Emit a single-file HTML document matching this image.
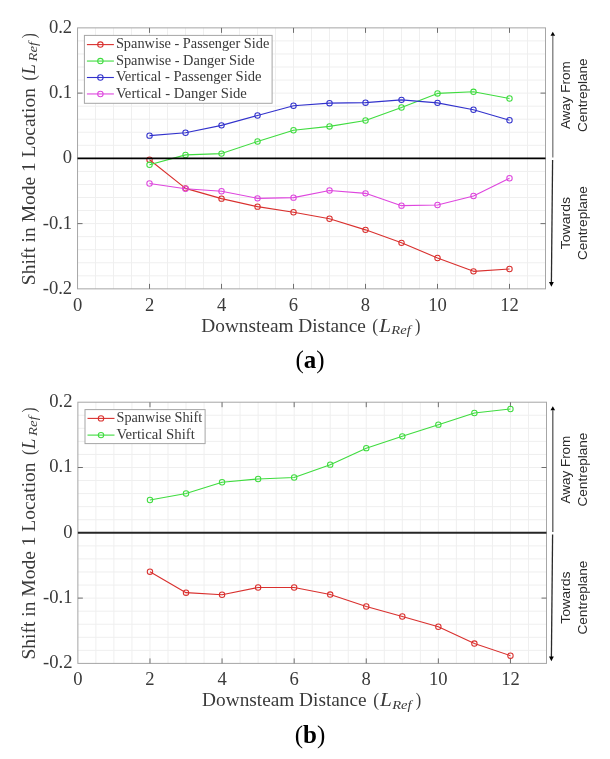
<!DOCTYPE html>
<html><head><meta charset="utf-8"><title>Mode 1 location shift</title><style>
html,body{margin:0;padding:0;background:#fff;}
body{width:610px;height:759px;overflow:hidden;position:relative;}
svg{position:absolute;left:0;top:0;will-change:transform;}
text{font-family:"Liberation Serif",serif;fill:#3a3a3a;}
.tk{font-size:18.6px;}
.lg{font-size:14.2px;}
.lb{font-size:18.5px;}
.sb{font-size:13px;}
.it{font-style:italic;}
.an{font-family:"Liberation Sans",sans-serif;font-size:12.8px;fill:#2a2a2a;}
.cap{font-size:25px;fill:#000;}
</style></head>
<body>
<svg width="610" height="759" viewBox="0 0 610 759">

<rect x="77.54" y="27.87" width="467.96" height="260.98" fill="#fff"/>
<path d="M95.54 27.87V288.85M113.54 27.87V288.85M131.54 27.87V288.85M149.53 27.87V288.85M167.53 27.87V288.85M185.53 27.87V288.85M203.53 27.87V288.85M221.53 27.87V288.85M239.53 27.87V288.85M257.52 27.87V288.85M275.52 27.87V288.85M293.52 27.87V288.85M311.52 27.87V288.85M329.52 27.87V288.85M347.52 27.87V288.85M365.52 27.87V288.85M383.51 27.87V288.85M401.51 27.87V288.85M419.51 27.87V288.85M437.51 27.87V288.85M455.51 27.87V288.85M473.51 27.87V288.85M491.50 27.87V288.85M509.50 27.87V288.85M527.50 27.87V288.85M77.54 275.80H545.50M77.54 262.75H545.50M77.54 249.70H545.50M77.54 236.65H545.50M77.54 223.61H545.50M77.54 210.56H545.50M77.54 197.51H545.50M77.54 184.46H545.50M77.54 171.41H545.50M77.54 145.31H545.50M77.54 132.26H545.50M77.54 119.21H545.50M77.54 106.16H545.50M77.54 93.12H545.50M77.54 80.07H545.50M77.54 67.02H545.50M77.54 53.97H545.50M77.54 40.92H545.50" stroke="#efefef" stroke-width="1" fill="none"/>
<rect x="77.54" y="27.87" width="467.96" height="260.98" fill="none" stroke="#a6a6a6" stroke-width="1"/>
<path d="M149.53 27.87v5M149.53 288.85v-5M221.53 27.87v5M221.53 288.85v-5M293.52 27.87v5M293.52 288.85v-5M365.52 27.87v5M365.52 288.85v-5M437.51 27.87v5M437.51 288.85v-5M509.50 27.87v5M509.50 288.85v-5M77.54 223.61h5M545.50 223.61h-5M77.54 93.12h5M545.50 93.12h-5" stroke="#6e6e6e" stroke-width="1" fill="none"/>
<path d="M149.53 159.75L185.53 188.35L221.53 198.65L257.52 206.65L293.52 212.25L329.52 218.75L365.52 229.85L401.51 242.85L437.51 257.95L473.51 271.35L509.50 269.05" stroke="#d9302e" stroke-width="1.1" fill="none" stroke-linejoin="round"/>
<circle cx="149.53" cy="159.75" r="2.7" stroke="#d9302e" stroke-width="1.05" fill="none"/>
<circle cx="185.53" cy="188.35" r="2.7" stroke="#d9302e" stroke-width="1.05" fill="none"/>
<circle cx="221.53" cy="198.65" r="2.7" stroke="#d9302e" stroke-width="1.05" fill="none"/>
<circle cx="257.52" cy="206.65" r="2.7" stroke="#d9302e" stroke-width="1.05" fill="none"/>
<circle cx="293.52" cy="212.25" r="2.7" stroke="#d9302e" stroke-width="1.05" fill="none"/>
<circle cx="329.52" cy="218.75" r="2.7" stroke="#d9302e" stroke-width="1.05" fill="none"/>
<circle cx="365.52" cy="229.85" r="2.7" stroke="#d9302e" stroke-width="1.05" fill="none"/>
<circle cx="401.51" cy="242.85" r="2.7" stroke="#d9302e" stroke-width="1.05" fill="none"/>
<circle cx="437.51" cy="257.95" r="2.7" stroke="#d9302e" stroke-width="1.05" fill="none"/>
<circle cx="473.51" cy="271.35" r="2.7" stroke="#d9302e" stroke-width="1.05" fill="none"/>
<circle cx="509.50" cy="269.05" r="2.7" stroke="#d9302e" stroke-width="1.05" fill="none"/>
<path d="M149.53 164.80L185.53 154.90L221.53 153.60L257.52 141.50L293.52 130.20L329.52 126.40L365.52 120.50L401.51 107.50L437.51 93.40L473.51 91.80L509.50 98.50" stroke="#3fdc3f" stroke-width="1.1" fill="none" stroke-linejoin="round"/>
<circle cx="149.53" cy="164.80" r="2.7" stroke="#3fdc3f" stroke-width="1.05" fill="none"/>
<circle cx="185.53" cy="154.90" r="2.7" stroke="#3fdc3f" stroke-width="1.05" fill="none"/>
<circle cx="221.53" cy="153.60" r="2.7" stroke="#3fdc3f" stroke-width="1.05" fill="none"/>
<circle cx="257.52" cy="141.50" r="2.7" stroke="#3fdc3f" stroke-width="1.05" fill="none"/>
<circle cx="293.52" cy="130.20" r="2.7" stroke="#3fdc3f" stroke-width="1.05" fill="none"/>
<circle cx="329.52" cy="126.40" r="2.7" stroke="#3fdc3f" stroke-width="1.05" fill="none"/>
<circle cx="365.52" cy="120.50" r="2.7" stroke="#3fdc3f" stroke-width="1.05" fill="none"/>
<circle cx="401.51" cy="107.50" r="2.7" stroke="#3fdc3f" stroke-width="1.05" fill="none"/>
<circle cx="437.51" cy="93.40" r="2.7" stroke="#3fdc3f" stroke-width="1.05" fill="none"/>
<circle cx="473.51" cy="91.80" r="2.7" stroke="#3fdc3f" stroke-width="1.05" fill="none"/>
<circle cx="509.50" cy="98.50" r="2.7" stroke="#3fdc3f" stroke-width="1.05" fill="none"/>
<path d="M149.53 135.65L185.53 132.75L221.53 125.35L257.52 115.45L293.52 105.75L329.52 103.15L365.52 102.65L401.51 99.85L437.51 102.85L473.51 109.75L509.50 120.25" stroke="#3232cc" stroke-width="1.1" fill="none" stroke-linejoin="round"/>
<circle cx="149.53" cy="135.65" r="2.7" stroke="#3232cc" stroke-width="1.05" fill="none"/>
<circle cx="185.53" cy="132.75" r="2.7" stroke="#3232cc" stroke-width="1.05" fill="none"/>
<circle cx="221.53" cy="125.35" r="2.7" stroke="#3232cc" stroke-width="1.05" fill="none"/>
<circle cx="257.52" cy="115.45" r="2.7" stroke="#3232cc" stroke-width="1.05" fill="none"/>
<circle cx="293.52" cy="105.75" r="2.7" stroke="#3232cc" stroke-width="1.05" fill="none"/>
<circle cx="329.52" cy="103.15" r="2.7" stroke="#3232cc" stroke-width="1.05" fill="none"/>
<circle cx="365.52" cy="102.65" r="2.7" stroke="#3232cc" stroke-width="1.05" fill="none"/>
<circle cx="401.51" cy="99.85" r="2.7" stroke="#3232cc" stroke-width="1.05" fill="none"/>
<circle cx="437.51" cy="102.85" r="2.7" stroke="#3232cc" stroke-width="1.05" fill="none"/>
<circle cx="473.51" cy="109.75" r="2.7" stroke="#3232cc" stroke-width="1.05" fill="none"/>
<circle cx="509.50" cy="120.25" r="2.7" stroke="#3232cc" stroke-width="1.05" fill="none"/>
<path d="M149.53 183.45L185.53 188.75L221.53 191.25L257.52 198.35L293.52 197.65L329.52 190.45L365.52 193.35L401.51 205.65L437.51 204.95L473.51 195.95L509.50 178.25" stroke="#de46de" stroke-width="1.1" fill="none" stroke-linejoin="round"/>
<circle cx="149.53" cy="183.45" r="2.7" stroke="#de46de" stroke-width="1.05" fill="none"/>
<circle cx="185.53" cy="188.75" r="2.7" stroke="#de46de" stroke-width="1.05" fill="none"/>
<circle cx="221.53" cy="191.25" r="2.7" stroke="#de46de" stroke-width="1.05" fill="none"/>
<circle cx="257.52" cy="198.35" r="2.7" stroke="#de46de" stroke-width="1.05" fill="none"/>
<circle cx="293.52" cy="197.65" r="2.7" stroke="#de46de" stroke-width="1.05" fill="none"/>
<circle cx="329.52" cy="190.45" r="2.7" stroke="#de46de" stroke-width="1.05" fill="none"/>
<circle cx="365.52" cy="193.35" r="2.7" stroke="#de46de" stroke-width="1.05" fill="none"/>
<circle cx="401.51" cy="205.65" r="2.7" stroke="#de46de" stroke-width="1.05" fill="none"/>
<circle cx="437.51" cy="204.95" r="2.7" stroke="#de46de" stroke-width="1.05" fill="none"/>
<circle cx="473.51" cy="195.95" r="2.7" stroke="#de46de" stroke-width="1.05" fill="none"/>
<circle cx="509.50" cy="178.25" r="2.7" stroke="#de46de" stroke-width="1.05" fill="none"/>
<path d="M77.54 158.36H545.50" stroke="#000" stroke-width="1.9" fill="none"/>
<text x="72.14" y="32.77" text-anchor="end" class="tk">0.2</text>
<text x="72.14" y="98.02" text-anchor="end" class="tk">0.1</text>
<text x="72.14" y="163.26" text-anchor="end" class="tk">0</text>
<text x="72.14" y="228.51" text-anchor="end" class="tk">-0.1</text>
<text x="72.14" y="293.75" text-anchor="end" class="tk">-0.2</text>
<text x="77.54" y="310.85" text-anchor="middle" class="tk">0</text>
<text x="149.53" y="310.85" text-anchor="middle" class="tk">2</text>
<text x="221.53" y="310.85" text-anchor="middle" class="tk">4</text>
<text x="293.52" y="310.85" text-anchor="middle" class="tk">6</text>
<text x="365.52" y="310.85" text-anchor="middle" class="tk">8</text>
<text x="437.51" y="310.85" text-anchor="middle" class="tk">10</text>
<text x="509.50" y="310.85" text-anchor="middle" class="tk">12</text>
<rect x="84.4" y="35.4" width="187.70000000000002" height="67.9" fill="#fff" stroke="#a6a6a6" stroke-width="1"/>
<path d="M86.90 44.60H113.90" stroke="#d9302e" stroke-width="1.1"/>
<circle cx="100.40" cy="44.60" r="2.7" stroke="#d9302e" stroke-width="1.05" fill="none"/>
<text x="115.90" y="48.30" class="lg" textLength="153.5" lengthAdjust="spacingAndGlyphs">Spanwise - Passenger Side</text>
<path d="M86.90 61.05H113.90" stroke="#3fdc3f" stroke-width="1.1"/>
<circle cx="100.40" cy="61.05" r="2.7" stroke="#3fdc3f" stroke-width="1.05" fill="none"/>
<text x="115.90" y="64.75" class="lg" textLength="138.8" lengthAdjust="spacingAndGlyphs">Spanwise - Danger Side</text>
<path d="M86.90 77.50H113.90" stroke="#3232cc" stroke-width="1.1"/>
<circle cx="100.40" cy="77.50" r="2.7" stroke="#3232cc" stroke-width="1.05" fill="none"/>
<text x="115.90" y="81.20" class="lg" textLength="145.6" lengthAdjust="spacingAndGlyphs">Vertical - Passenger Side</text>
<path d="M86.90 93.95H113.90" stroke="#de46de" stroke-width="1.1"/>
<circle cx="100.40" cy="93.95" r="2.7" stroke="#de46de" stroke-width="1.05" fill="none"/>
<text x="115.90" y="97.65" class="lg" textLength="131" lengthAdjust="spacingAndGlyphs">Vertical - Danger Side</text>
<text x="201.34" y="331.70" class="lb" style="font-size:18.5px" textLength="164.52" lengthAdjust="spacingAndGlyphs">Downsteam Distance</text>
<text x="372.33" y="331.50" class="lb" style="font-size:19.6px" textLength="5.83" lengthAdjust="spacingAndGlyphs">(</text>
<text x="379.25" y="331.60" class="lb it" style="font-size:18.9px" textLength="11.86" lengthAdjust="spacingAndGlyphs">L</text>
<text x="391.38" y="334.00" class="sb it" style="font-size:13.0px" textLength="19.44" lengthAdjust="spacingAndGlyphs">Ref</text>
<text x="415.07" y="331.50" class="lb" style="font-size:19.6px" textLength="5.45" lengthAdjust="spacingAndGlyphs">)</text>
<g transform="translate(34.80 0.00) rotate(-90)"><text x="-285.20" y="0.00" class="lb" style="font-size:18.5px" textLength="197.10" lengthAdjust="spacingAndGlyphs">Shift in Mode 1 Location</text><text x="-80.58" y="-0.20" class="lb" style="font-size:19.6px" textLength="5.19" lengthAdjust="spacingAndGlyphs">(</text><text x="-74.58" y="-0.10" class="lb it" style="font-size:18.9px" textLength="10.36" lengthAdjust="spacingAndGlyphs">L</text><text x="-61.62" y="2.30" class="sb it" style="font-size:13.0px" textLength="19.72" lengthAdjust="spacingAndGlyphs">Ref</text><text x="-38.18" y="-0.20" class="lb" style="font-size:19.6px" textLength="4.93" lengthAdjust="spacingAndGlyphs">)</text></g>
<path d="M552.8 157.56V35.87" stroke="#7a7a7a" stroke-width="1.3" fill="none"/>
<path d="M550.50 35.87L552.80 31.87L555.10 35.87Z" fill="#000"/>
<path d="M552.60 159.96L551.40 282.35" stroke="#2a2a2a" stroke-width="1.3" fill="none"/>
<path d="M549.00 282.05L551.40 286.65L553.80 282.05Z" fill="#000"/>
<g transform="translate(569.6 95.22) rotate(-90)"><text x="0" y="0" class="an" text-anchor="middle" textLength="67.8" lengthAdjust="spacingAndGlyphs">Away From</text></g>
<g transform="translate(587.2 95.22) rotate(-90)"><text x="0" y="0" class="an" text-anchor="middle" textLength="73.6" lengthAdjust="spacingAndGlyphs">Centreplane</text></g>
<g transform="translate(569.6 223.11) rotate(-90)"><text x="0" y="0" class="an" text-anchor="middle" textLength="52.3" lengthAdjust="spacingAndGlyphs">Towards</text></g>
<g transform="translate(587.2 223.11) rotate(-90)"><text x="0" y="0" class="an" text-anchor="middle" textLength="73.6" lengthAdjust="spacingAndGlyphs">Centreplane</text></g>
<text x="310.00" y="367.90" text-anchor="middle" class="cap">(<tspan font-weight="bold">a</tspan>)</text>
<rect x="77.87" y="402.2" width="468.63" height="261.2" fill="#fff"/>
<path d="M95.89 402.20V663.40M113.92 402.20V663.40M131.94 402.20V663.40M149.97 402.20V663.40M167.99 402.20V663.40M186.02 402.20V663.40M204.04 402.20V663.40M222.06 402.20V663.40M240.09 402.20V663.40M258.11 402.20V663.40M276.14 402.20V663.40M294.16 402.20V663.40M312.19 402.20V663.40M330.21 402.20V663.40M348.23 402.20V663.40M366.26 402.20V663.40M384.28 402.20V663.40M402.31 402.20V663.40M420.33 402.20V663.40M438.35 402.20V663.40M456.38 402.20V663.40M474.40 402.20V663.40M492.43 402.20V663.40M510.45 402.20V663.40M528.48 402.20V663.40M77.87 650.34H546.50M77.87 637.28H546.50M77.87 624.22H546.50M77.87 611.16H546.50M77.87 598.10H546.50M77.87 585.04H546.50M77.87 571.98H546.50M77.87 558.92H546.50M77.87 545.86H546.50M77.87 519.74H546.50M77.87 506.68H546.50M77.87 493.62H546.50M77.87 480.56H546.50M77.87 467.50H546.50M77.87 454.44H546.50M77.87 441.38H546.50M77.87 428.32H546.50M77.87 415.26H546.50" stroke="#efefef" stroke-width="1" fill="none"/>
<rect x="77.87" y="402.2" width="468.63" height="261.2" fill="none" stroke="#a6a6a6" stroke-width="1"/>
<path d="M149.97 402.20v5M149.97 663.40v-5M222.06 402.20v5M222.06 663.40v-5M294.16 402.20v5M294.16 663.40v-5M366.26 402.20v5M366.26 663.40v-5M438.35 402.20v5M438.35 663.40v-5M510.45 402.20v5M510.45 663.40v-5M77.87 598.10h5M546.50 598.10h-5M77.87 467.50h5M546.50 467.50h-5" stroke="#6e6e6e" stroke-width="1" fill="none"/>
<path d="M149.97 571.65L186.02 592.65L222.06 594.75L258.11 587.45L294.16 587.45L330.21 594.55L366.26 606.45L402.31 616.45L438.35 626.75L474.40 643.55L510.45 655.65" stroke="#d9302e" stroke-width="1.1" fill="none" stroke-linejoin="round"/>
<circle cx="149.97" cy="571.65" r="2.7" stroke="#d9302e" stroke-width="1.05" fill="none"/>
<circle cx="186.02" cy="592.65" r="2.7" stroke="#d9302e" stroke-width="1.05" fill="none"/>
<circle cx="222.06" cy="594.75" r="2.7" stroke="#d9302e" stroke-width="1.05" fill="none"/>
<circle cx="258.11" cy="587.45" r="2.7" stroke="#d9302e" stroke-width="1.05" fill="none"/>
<circle cx="294.16" cy="587.45" r="2.7" stroke="#d9302e" stroke-width="1.05" fill="none"/>
<circle cx="330.21" cy="594.55" r="2.7" stroke="#d9302e" stroke-width="1.05" fill="none"/>
<circle cx="366.26" cy="606.45" r="2.7" stroke="#d9302e" stroke-width="1.05" fill="none"/>
<circle cx="402.31" cy="616.45" r="2.7" stroke="#d9302e" stroke-width="1.05" fill="none"/>
<circle cx="438.35" cy="626.75" r="2.7" stroke="#d9302e" stroke-width="1.05" fill="none"/>
<circle cx="474.40" cy="643.55" r="2.7" stroke="#d9302e" stroke-width="1.05" fill="none"/>
<circle cx="510.45" cy="655.65" r="2.7" stroke="#d9302e" stroke-width="1.05" fill="none"/>
<path d="M149.97 500.05L186.02 493.45L222.06 482.25L258.11 478.95L294.16 477.55L330.21 464.65L366.26 448.15L402.31 436.35L438.35 424.65L474.40 412.95L510.45 408.95" stroke="#3fdc3f" stroke-width="1.1" fill="none" stroke-linejoin="round"/>
<circle cx="149.97" cy="500.05" r="2.7" stroke="#3fdc3f" stroke-width="1.05" fill="none"/>
<circle cx="186.02" cy="493.45" r="2.7" stroke="#3fdc3f" stroke-width="1.05" fill="none"/>
<circle cx="222.06" cy="482.25" r="2.7" stroke="#3fdc3f" stroke-width="1.05" fill="none"/>
<circle cx="258.11" cy="478.95" r="2.7" stroke="#3fdc3f" stroke-width="1.05" fill="none"/>
<circle cx="294.16" cy="477.55" r="2.7" stroke="#3fdc3f" stroke-width="1.05" fill="none"/>
<circle cx="330.21" cy="464.65" r="2.7" stroke="#3fdc3f" stroke-width="1.05" fill="none"/>
<circle cx="366.26" cy="448.15" r="2.7" stroke="#3fdc3f" stroke-width="1.05" fill="none"/>
<circle cx="402.31" cy="436.35" r="2.7" stroke="#3fdc3f" stroke-width="1.05" fill="none"/>
<circle cx="438.35" cy="424.65" r="2.7" stroke="#3fdc3f" stroke-width="1.05" fill="none"/>
<circle cx="474.40" cy="412.95" r="2.7" stroke="#3fdc3f" stroke-width="1.05" fill="none"/>
<circle cx="510.45" cy="408.95" r="2.7" stroke="#3fdc3f" stroke-width="1.05" fill="none"/>
<path d="M77.87 532.80H546.50" stroke="#262626" stroke-width="1.9" fill="none"/>
<text x="72.47" y="407.10" text-anchor="end" class="tk">0.2</text>
<text x="72.47" y="472.40" text-anchor="end" class="tk">0.1</text>
<text x="72.47" y="537.70" text-anchor="end" class="tk">0</text>
<text x="72.47" y="603.00" text-anchor="end" class="tk">-0.1</text>
<text x="72.47" y="668.30" text-anchor="end" class="tk">-0.2</text>
<text x="77.87" y="685.40" text-anchor="middle" class="tk">0</text>
<text x="149.97" y="685.40" text-anchor="middle" class="tk">2</text>
<text x="222.06" y="685.40" text-anchor="middle" class="tk">4</text>
<text x="294.16" y="685.40" text-anchor="middle" class="tk">6</text>
<text x="366.26" y="685.40" text-anchor="middle" class="tk">8</text>
<text x="438.35" y="685.40" text-anchor="middle" class="tk">10</text>
<text x="510.45" y="685.40" text-anchor="middle" class="tk">12</text>
<rect x="85.0" y="409.6" width="120.1" height="34.0" fill="#fff" stroke="#a6a6a6" stroke-width="1"/>
<path d="M87.50 418.40H114.50" stroke="#d9302e" stroke-width="1.1"/>
<circle cx="101.00" cy="418.40" r="2.7" stroke="#d9302e" stroke-width="1.05" fill="none"/>
<text x="116.50" y="422.10" class="lg" textLength="85.7" lengthAdjust="spacingAndGlyphs">Spanwise Shift</text>
<path d="M87.50 435.10H114.50" stroke="#3fdc3f" stroke-width="1.1"/>
<circle cx="101.00" cy="435.10" r="2.7" stroke="#3fdc3f" stroke-width="1.05" fill="none"/>
<text x="116.50" y="438.80" class="lg" textLength="78.3" lengthAdjust="spacingAndGlyphs">Vertical Shift</text>
<text x="202.14" y="706.25" class="lb" style="font-size:18.5px" textLength="164.52" lengthAdjust="spacingAndGlyphs">Downsteam Distance</text>
<text x="373.13" y="706.05" class="lb" style="font-size:19.6px" textLength="5.83" lengthAdjust="spacingAndGlyphs">(</text>
<text x="380.05" y="706.15" class="lb it" style="font-size:18.9px" textLength="11.86" lengthAdjust="spacingAndGlyphs">L</text>
<text x="392.18" y="708.55" class="sb it" style="font-size:13.0px" textLength="19.44" lengthAdjust="spacingAndGlyphs">Ref</text>
<text x="415.87" y="706.05" class="lb" style="font-size:19.6px" textLength="5.45" lengthAdjust="spacingAndGlyphs">)</text>
<g transform="translate(35.10 374.33) rotate(-90)"><text x="-285.20" y="0.00" class="lb" style="font-size:18.5px" textLength="197.10" lengthAdjust="spacingAndGlyphs">Shift in Mode 1 Location</text><text x="-80.58" y="-0.20" class="lb" style="font-size:19.6px" textLength="5.19" lengthAdjust="spacingAndGlyphs">(</text><text x="-74.58" y="-0.10" class="lb it" style="font-size:18.9px" textLength="10.36" lengthAdjust="spacingAndGlyphs">L</text><text x="-61.62" y="2.30" class="sb it" style="font-size:13.0px" textLength="19.72" lengthAdjust="spacingAndGlyphs">Ref</text><text x="-38.18" y="-0.20" class="lb" style="font-size:19.6px" textLength="4.93" lengthAdjust="spacingAndGlyphs">)</text></g>
<path d="M552.8 532.00V410.20" stroke="#5a5a5a" stroke-width="1.3" fill="none"/>
<path d="M550.50 410.20L552.80 406.20L555.10 410.20Z" fill="#000"/>
<path d="M552.60 534.40L551.40 656.90" stroke="#2a2a2a" stroke-width="1.3" fill="none"/>
<path d="M549.00 656.60L551.40 661.20L553.80 656.60Z" fill="#000"/>
<g transform="translate(569.6 469.60) rotate(-90)"><text x="0" y="0" class="an" text-anchor="middle" textLength="67.8" lengthAdjust="spacingAndGlyphs">Away From</text></g>
<g transform="translate(587.2 469.60) rotate(-90)"><text x="0" y="0" class="an" text-anchor="middle" textLength="73.6" lengthAdjust="spacingAndGlyphs">Centreplane</text></g>
<g transform="translate(569.6 597.60) rotate(-90)"><text x="0" y="0" class="an" text-anchor="middle" textLength="52.3" lengthAdjust="spacingAndGlyphs">Towards</text></g>
<g transform="translate(587.2 597.60) rotate(-90)"><text x="0" y="0" class="an" text-anchor="middle" textLength="73.6" lengthAdjust="spacingAndGlyphs">Centreplane</text></g>
<text x="310.00" y="742.90" text-anchor="middle" class="cap">(<tspan font-weight="bold">b</tspan>)</text>
</svg>
</body></html>
